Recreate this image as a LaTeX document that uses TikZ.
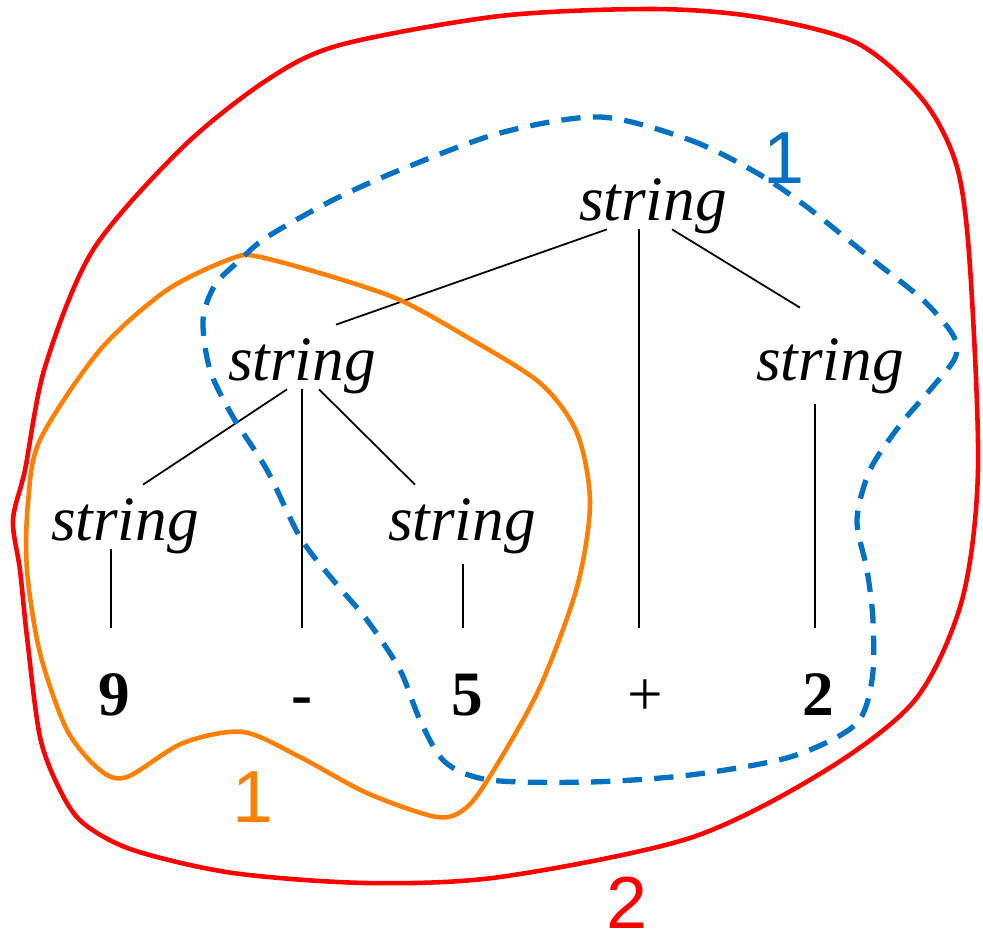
\documentclass[tikz,border=0pt]{standalone}
\usepackage{fontspec}
\setmainfont{Liberation Serif}
\newfontfamily\tagfont{Liberation Sans}
\definecolor{tagred}{RGB}{255,0,0}
\definecolor{tagorange}{RGB}{255,128,0}
\definecolor{tagblue}{RGB}{0,112,192}

\begin{document}
\begin{tikzpicture}[
  x=0.02cm, y=-0.02cm,
  sym/.style={font=\fontsize{36}{40}\selectfont\itshape, inner sep=0pt,
    text height=1.1cm, text depth=0.18cm, anchor=base},
  tok/.style={font=\fontsize{36}{40}\selectfont\bfseries, inner sep=0pt,
    text height=1.74cm, text depth=0pt, anchor=base},
  tag/.style={font=\fontsize{42}{46}\selectfont\tagfont, inner sep=0pt},
  branch/.style={line width=1pt},
  hull/.style={line width=2.6pt, line join=round}
]
  \useasboundingbox (0,0) rectangle (983,940);

  % parse tree
  \node[sym] (s0) at (653,220) {string};
  \node[sym] (s1) at (302,380) {string};
  \node[sym] (s2) at (830,380) {string};
  \node[sym] (s3) at (125,540) {string};
  \node[sym] (s4) at (462,540) {string};

  \node[tok] (t9)     at (114,715) {9};
  \node[tok] (tminus) at (302,715) {-};
  \node[tok] (t5)     at (467,715) {5};
  \node[tok] (tplus)  at (645,715) {\mdseries +};
  \node[tok] (t2)     at (818,715) {2};

  \draw[branch] ([shift={(-46,0)}]s0.south) -- ([shift={(34,0)}]s1.north);
  \draw[branch] ([shift={(-14,0)}]s0.south) -- ([shift={(-6,0)}]tplus.north);
  \draw[branch] ([shift={(19,0)}]s0.south) -- ([shift={(-30,-17)}]s2.north);
  \draw[branch] ([shift={(-15,0)}]s1.south) -- ([shift={(18,0)}]s3.north);
  \draw[branch] (s1.south) -- (tminus.north);
  \draw[branch] ([shift={(17,0)}]s1.south) -- ([shift={(-47,0)}]s4.north);
  \draw[branch] ([shift={(-15,15)}]s2.south) -- ([shift={(-3,0)}]t2.north);
  \draw[branch] ([shift={(-14,0)}]s3.south) -- ([shift={(-3,0)}]t9.north);
  \draw[branch] ([shift={(1,15)}]s4.south) -- ([shift={(-4,0)}]t5.north);

  % outlines
  \draw[hull, tagred] plot[smooth cycle] coordinates {
    (653,9) (757,17) (857,43) (923,100) (957,167) (970,267) (978,470)
    (962,600) (915,700) (823,772) (690,838) (500,877) (367,883) (233,873)
    (133,850) (83,823) (60,790) (40,737) (27,637) (20,570) (13,520)
    (25,470) (45,367) (93,250) (183,147) (267,80) (340,45) (500,16)};
  \draw[hull, tagorange] plot[smooth cycle] coordinates {
    (260,257) (333,277) (400,300) (467,337) (540,383) (577,433) (590,503)
    (577,587) (540,687) (495,768) (467,807) (437,817) (367,793) (300,757)
    (243,732) (183,743) (127,777) (100,770) (67,730) (40,653) (27,570)
    (28,503) (40,440) (100,350) (167,290) (233,258)};
  \draw[hull, tagblue, line width=3pt, dash pattern=on 11pt off 7pt]
    plot[smooth cycle] coordinates {
    (600,117) (690,140) (757,173) (807,207) (873,260) (923,300) (953,335)
    (955,358) (930,390) (900,425) (870,470) (857,520) (867,570) (873,620)
    (872,680) (855,725) (790,757) (690,775) (590,782) (490,780) (445,762)
    (420,720) (400,670) (367,620) (333,580) (300,537) (267,470) (233,417)
    (210,370) (203,320) (215,285) (240,260) (267,237) (333,200) (400,170)
    (500,133)};

  % labels
  \node[tag, tagblue]   (l1) at (784,158) {1};
  \node[tag, tagorange] (l2) at (253,797) {1};
  \node[tag, tagred]    (l3) at (627,903) {2};
\end{tikzpicture}
\end{document}
